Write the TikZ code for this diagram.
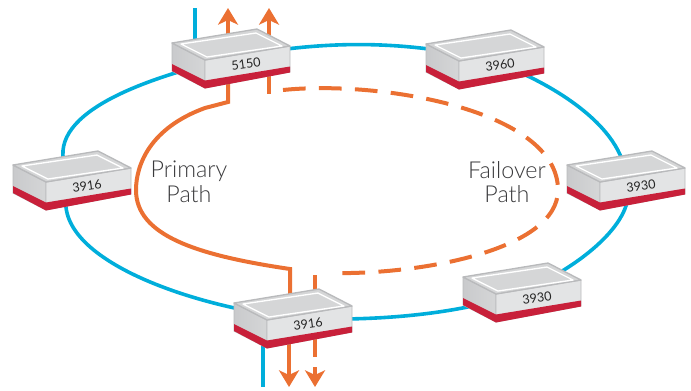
\documentclass[tikz,border=0pt]{standalone}
\usepackage{fontspec}
\setmainfont{Lato}
\newfontfamily\lightlabel{Lato Light}
\newfontfamily\digitfont{Lato}
\usetikzlibrary{arrows.meta,backgrounds}
\definecolor{ringblue}{HTML}{00AEDB}
\definecolor{pathorange}{HTML}{EB7032}
\definecolor{bandred}{HTML}{C8203A}
\definecolor{boxedge}{HTML}{B9BABC}
\definecolor{boxtop}{HTML}{D5D6D7}
\definecolor{boxfront}{HTML}{E3E4E5}
\definecolor{boxleft}{HTML}{C9CACC}
\definecolor{labelgrey}{HTML}{3A3A3C}
\tikzset{
  x=0.75pt,y=-0.75pt,
  ring/.style={draw=ringblue,line width=2.7pt},
  solidpath/.style={draw=pathorange,line width=3pt},
  dashpath/.style={draw=pathorange,line width=3pt,dash pattern=on 17pt off 10pt},
  flow/.style={draw=pathorange,line width=3pt,-{Stealth[length=12.5pt,width=15pt,inset=3.5pt]}},
  boxnum/.style={font=\digitfont\fontsize{9.5}{9.5}\selectfont,text=black!85,rotate=8,inner sep=0pt},
  pathlabel/.style={font=\lightlabel\fontsize{17.5}{18.5}\selectfont,text=labelgrey,align=center,inner sep=0pt},
  routerbox/.pic={
    \coordinate (-c) at (59,15);
    \shade[left color=boxleft,right color=boxtop] (0,0) -- (33,17) -- (33,45) -- (0,28) -- cycle;
    \draw[boxedge,line width=0.7pt,line join=round] (0,0) -- (33,17) -- (33,45) -- (0,28) -- cycle;
    \fill[boxfront,draw=boxedge,line width=0.7pt,line join=round] (33,17) -- (118,3) -- (118,29) -- (33,45) -- cycle;
    \fill[boxtop,draw=boxedge,line width=1pt,line join=round] (0,0) -- (85,-14) -- (118,3) -- (33,17) -- cycle;
    \draw[white,line width=1pt,line join=round] (9,1) -- (84,-10) -- (110,3) -- (35,14) -- cycle;
    \fill[bandred] (0,21) -- (33,37.5) -- (118,23.5) -- (118,29.5) -- (33,45.5) -- (0,28) -- cycle;
    \node[boxnum] (-num) at (74,21) {#1};
  }
}
\begin{document}
\begin{tikzpicture}
\useasboundingbox (0,0) rectangle (691,390);
\pic (a) at (172,43) {routerbox={5150}};
\pic (b) at (426,44) {routerbox={3960}};
\pic (c) at (567,165) {routerbox={3930}};
\pic (d) at (463,277) {routerbox={3930}};
\pic (e) at (234,303) {routerbox={3916}};
\pic (f) at (13,165) {routerbox={3916}};
\node[pathlabel] (primary) at (189,182) {Primary\\Path};
\node[pathlabel] (failover) at (507,182) {Failover\\Path};
\coordinate (blueTop) at (195,8);
\coordinate (blueBottom) at (263,387);
\coordinate (tipA) at (228,8);
\coordinate (tipB) at (269,8);
\coordinate (tipC) at (289,387);
\coordinate (stubTop) at (269,94);
\coordinate (stubBottom) at (315,275);
\coordinate (stubLow) at (315,357);
\coordinate (headLow) at (315,367);
\coordinate (tipD) at (315,387);
\begin{scope}[on background layer]
  \draw[ring] (a-c) .. controls (330,38) and (410,42) .. (b-c);
  \draw[ring] (b-c) .. controls (545,78) and (625,125) .. (c-c);
  \draw[ring] (c-c) .. controls (640,215) and (590,262) .. (d-c);
  \draw[ring] (d-c) .. controls (460,315) and (370,322) .. (e-c);
  \draw[ring] (e-c) .. controls (170,303) and (35,248) .. (f-c);
  \draw[ring] (f-c) .. controls (35,125) and (115,85) .. (a-c);
  \draw[ring] (195,50) -- (blueTop);
  \draw[ring] (263,330) -- (blueBottom);
  \draw[solidpath] (228,70) -- (228,102) -- (205,108)
     .. controls (150,128) and (136,165) .. (136,190)
     .. controls (136,235) and (195,255) .. (290,269) -- (290,310);
  \draw[flow] (228,40) -- (tipA);
  \draw[flow] (269,40) -- (tipB);
  \draw[flow] (289,320) -- (tipC);
  \draw[solidpath] (269,70) -- (stubTop);
  \draw[solidpath] (315,310) -- (stubLow);
  \draw[solidpath] (315,310) -- (stubBottom);
  \draw[flow] (headLow) -- (tipD);
  \draw[dashpath] (283,90) .. controls (380,80) and (558,110) .. (558,190)
     .. controls (558,250) and (420,275) .. (330,273);
\end{scope}
\end{tikzpicture}
\end{document}
